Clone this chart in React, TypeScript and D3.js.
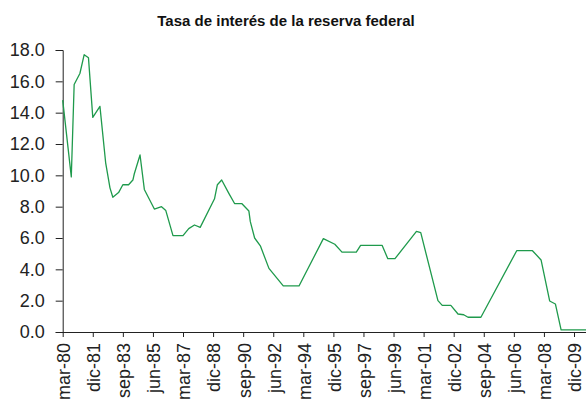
import React, { useEffect, useRef } from 'react';
import * as d3 from 'd3';

// months since mar-80 and the rate read at that point
const months = [
  0, 6, 8, 12, 15, 18, 21, 26, 30, 33, 35, 39, 42, 46, 49, 50, 54, 57, 64, 69,
  72, 77, 84, 88, 92, 96, 106, 108, 111, 116, 120, 125, 130, 131, 134, 138, 144,
  154, 165, 182, 190, 195, 205, 208, 223, 227, 232, 247, 250, 262, 265, 271, 276,
  280, 283, 292, 317, 328, 334, 340, 344, 348, 366,
];
const rates = [
  14.8, 9.9, 15.8, 16.5, 17.7, 17.5, 13.7, 14.4, 10.8, 9.2, 8.6, 8.9, 9.4, 9.4,
  9.7, 10.1, 11.3, 9.1, 7.85, 8.0, 7.75, 6.15, 6.15, 6.6, 6.83, 6.68, 8.5, 9.4,
  9.7, 8.85, 8.2, 8.2, 7.72, 7.04, 6.0, 5.5, 4.06, 2.94, 2.94, 5.96, 5.6, 5.1,
  5.1, 5.53, 5.53, 4.68, 4.68, 6.42, 6.34, 2.0, 1.7, 1.7, 1.15, 1.1, 0.94, 0.94,
  5.19, 5.19, 4.6, 1.98, 1.79, 0.13, 0.13,
];
const tickLabels = [
  'mar-80', 'dic-81', 'sep-83', 'jun-85', 'mar-87', 'dic-88', 'sep-90', 'jun-92',
  'mar-94', 'dic-95', 'sep-97', 'jun-99', 'mar-01', 'dic-02', 'sep-04', 'jun-06',
  'mar-08', 'dic-09',
];
const yTicks = [0, 2, 4, 6, 8, 10, 12, 14, 16, 18];
const monthStep = 21;

const width = 586;
const height = 405;

export default function App() {
  const svgRef = useRef<SVGSVGElement>(null);

  useEffect(() => {
    if (!svgRef.current) return;
    const svg = d3.select(svgRef.current);
    svg.selectAll('*').remove();

    const x = d3.scaleLinear()
      .domain([0, monthStep * (tickLabels.length - 1)])
      .range([62.7, 574]);
    const y = d3.scaleLinear().domain([0, 18]).range([332, 50]);

    const font = 'Liberation Sans, Arial, Helvetica, sans-serif';

    // title
    svg.append('text')
      .attr('x', 286)
      .attr('y', 26)
      .attr('text-anchor', 'middle')
      .style('font-family', font)
      .style('font-weight', 'bold')
      .style('font-size', '15px')
      .attr('fill', '#111')
      .text('Tasa de interés de la reserva federal');

    // y axis
    const yAxis = svg.append('g')
      .attr('transform', `translate(${x(0)},0)`)
      .call(
        d3.axisLeft(y)
          .tickValues(yTicks)
          .tickSize(7)
          .tickPadding(11)
          .tickFormat(d => d3.format('.1f')(d as number))
      );
    yAxis.selectAll('text')
      .style('font-family', font)
      .style('font-size', '18px')
      .attr('fill', '#222');
    yAxis.select('.domain').attr('stroke', '#222');
    yAxis.selectAll('line').attr('stroke', '#222');

    // x axis
    const xAxis = svg.append('g')
      .attr('transform', `translate(0,${y(0)})`)
      .call(
        d3.axisBottom(x)
          .tickValues(tickLabels.map((_, i) => i * monthStep))
          .tickSize(5)
          .tickSizeOuter(0)
          .tickFormat((_, i) => tickLabels[i])
      );
    xAxis.select('.domain')
      .attr('stroke', '#222')
      .attr('d', `M${x(0)},0.5H${width}`);
    xAxis.selectAll('line').attr('stroke', '#222');
    xAxis.selectAll('text')
      .style('font-family', font)
      .style('font-size', '18px')
      .attr('fill', '#222')
      .attr('text-anchor', 'end')
      .attr('transform', 'rotate(-90)')
      .attr('x', -11)
      .attr('y', 0)
      .attr('dy', '0.38em');

    // rate line
    const line = d3.line<number>()
      .x((_, i) => x(months[i]))
      .y(d => y(d));

    svg.append('path')
      .datum(rates)
      .attr('fill', 'none')
      .attr('stroke', '#1f9a4c')
      .attr('stroke-width', 1.3)
      .attr('stroke-linejoin', 'round')
      .attr('d', line);
  }, []);

  return (
    <svg
      ref={svgRef}
      width={width}
      height={height}
      style={{ position: 'fixed', left: 0, top: 0, background: '#fff' }}
    />
  );
}
